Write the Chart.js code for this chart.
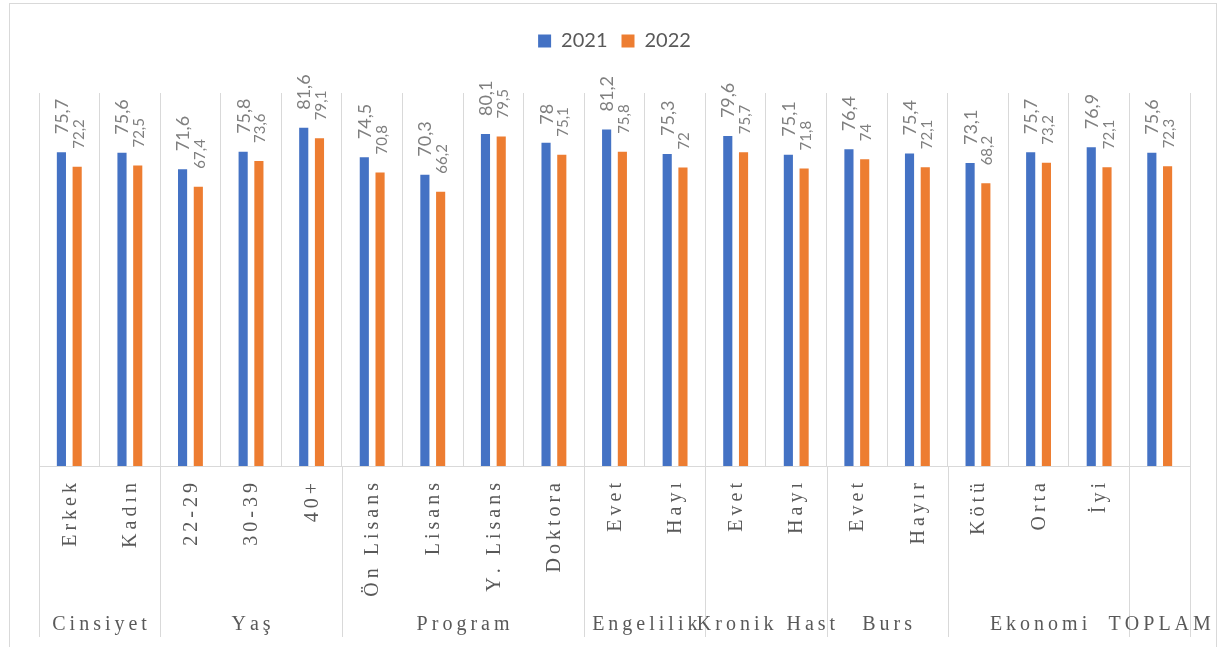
<!DOCTYPE html>
<html>
<head>
<meta charset="utf-8">
<title>2021-2022</title>
<script src="https://cdn.jsdelivr.net/npm/chart.js@4/dist/chart.umd.min.js"></script>
<style>
  html, body { margin: 0; padding: 0; background: #fff; overflow: hidden; }
  #wrap { position: relative; width: 1220px; height: 647px; }
</style>
</head>
<body>
<div id="wrap"><canvas id="chart"></canvas></div>
<script>
// categories and their groups
const categories = ['Erkek', 'Kadın', '22-29', '30-39', '40+', 'Ön Lisans', 'Lisans', 'Y. Lisans', 'Doktora',
  'Evet', 'Hayı', 'Evet', 'Hayı', 'Evet', 'Hayır', 'Kötü', 'Orta', 'İyi', ''];
const groupNames = ['Cinsiyet', 'Yaş', 'Program', 'Engelilik', 'Kronik Hast', 'Burs', 'Ekonomi', 'TOPLAM'];
const groupSizes = [2, 3, 4, 2, 2, 2, 3, 1];

const values2021 = [75.7, 75.6, 71.6, 75.8, 81.6, 74.5, 70.3, 80.1, 78, 81.2, 75.3, 79.6, 75.1, 76.4, 75.4, 73.1, 75.7, 76.9, 75.6];
const values2022 = [72.2, 72.5, 67.4, 73.6, 79.1, 70.8, 66.2, 79.5, 75.1, 75.8, 72, 75.7, 71.8, 74, 72.1, 68.2, 73.2, 72.1, 72.3];

const gridColor = '#d9d9d9';
const textColor = '#595959';

// draw text letter by letter so the spaced look of the original comes through
function spacedText(ctx, str, x, y, spacing, align) {
  const chars = Array.from(str);
  const widths = chars.map(c => ctx.measureText(c).width);
  const total = widths.reduce((a, b) => a + b, 0) + spacing * (chars.length - 1);
  let pos = x;
  if (align === 'center') pos = x - total / 2;
  else if (align === 'right') pos = x - total;
  ctx.textAlign = 'left';
  chars.forEach((c, i) => {
    ctx.fillText(c, pos, y);
    pos += widths[i] + spacing;
  });
}

const legendSpace = {
  id: 'legendSpace',
  beforeInit(chart) {
    if (!chart.legend) return;
    const fit = chart.legend.fit;
    chart.legend.fit = function () {
      fit.call(this);
      this.height = 76;
    };
  }
};

const extras = {
  id: 'extras',
  beforeDraw(chart) {
    const ctx = chart.ctx;
    ctx.save();
    ctx.strokeStyle = gridColor;
    ctx.lineWidth = 1;
    ctx.strokeRect(9.5, 3.5, 1207, 700);
    ctx.restore();
  },
  afterDatasetsDraw(chart) {
    const ctx = chart.ctx;
    const x = chart.scales.x;
    const bottom = chart.chartArea.bottom;

    // value labels, rotated
    ctx.save();
    ctx.fillStyle = '#7f7f7f';
    ctx.textBaseline = 'alphabetic';
    ctx.textAlign = 'left';
    chart.data.datasets.forEach((ds, di) => {
      const meta = chart.getDatasetMeta(di);
      ctx.font = (di === 0 ? '18px' : '15px') + ' Lato, "Open Sans", sans-serif';
      meta.data.forEach((bar, i) => {
        const txt = String(ds.data[i]).replace('.', ',');
        ctx.save();
        ctx.translate(bar.x + 6.5, bar.y - 18);
        ctx.rotate(-Math.PI / 2);
        ctx.fillText(txt, 0, 0);
        ctx.restore();
      });
    });
    ctx.restore();

    // category labels, rotated
    ctx.save();
    ctx.fillStyle = textColor;
    ctx.font = '20px "Liberation Serif", "Times New Roman", serif';
    ctx.textBaseline = 'middle';
    categories.forEach((c, i) => {
      if (!c) return;
      const cx = x.getPixelForValue(i);
      ctx.save();
      ctx.translate(cx + 1, bottom + 17);
      ctx.rotate(-Math.PI / 2);
      spacedText(ctx, c, 0, 0, 4, 'right');
      ctx.restore();
    });

    // group separators and group labels
    ctx.strokeStyle = gridColor;
    ctx.lineWidth = 1;
    ctx.textBaseline = 'alphabetic';
    const edge = i => {
      if (i <= 0) return x.left;
      if (i >= categories.length) return x.right;
      return (x.getPixelForValue(i - 1) + x.getPixelForValue(i)) / 2;
    };
    let start = 0;
    groupNames.forEach((g, gi) => {
      const end = start + groupSizes[gi];
      const l = edge(start), r = edge(end);
      [l, r].forEach(px => {
        const p = Math.round(px) + 0.5;
        ctx.beginPath();
        ctx.moveTo(p, bottom);
        ctx.lineTo(p, 637);
        ctx.stroke();
      });
      spacedText(ctx, g, (l + r) / 2, 630, 4, 'center');
      start = end;
    });
    ctx.restore();
  }
};

new Chart(document.getElementById('chart'), {
  type: 'bar',
  data: {
    labels: categories,
    datasets: [
      { label: '2021', data: values2021, backgroundColor: '#4472C4', categoryPercentage: 0.52, barPercentage: 0.58 },
      { label: '2022', data: values2022, backgroundColor: '#ED7D31', categoryPercentage: 0.52, barPercentage: 0.58 }
    ]
  },
  options: {
    responsive: true,
    maintainAspectRatio: false,
    animation: false,
    layout: { padding: { top: 17, left: 39, right: 30, bottom: 181 } },
    scales: {
      x: {
        grid: { color: gridColor, drawTicks: false, offset: true },
        border: { color: gridColor },
        ticks: { display: false }
      },
      y: { display: false, min: 0, max: 90 }
    },
    plugins: {
      legend: {
        position: 'top',
        labels: {
          boxWidth: 13,
          boxHeight: 13,
          padding: 14,
          color: textColor,
          font: { family: 'Lato, "Open Sans", sans-serif', size: 20 }
        }
      },
      tooltip: { enabled: false }
    }
  },
  plugins: [legendSpace, extras]
});
</script>
</body>
</html>
